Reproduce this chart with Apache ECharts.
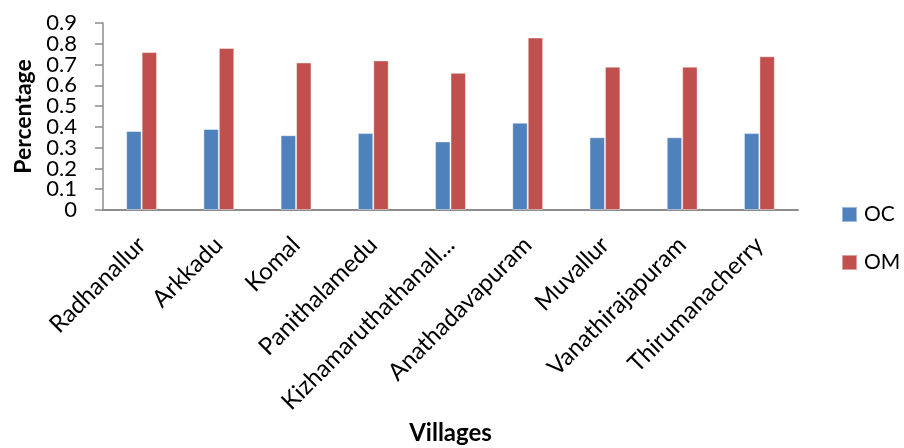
<!DOCTYPE html>
<html>
<head>
<meta charset="utf-8">
<script src="https://cdn.jsdelivr.net/npm/echarts@6/dist/echarts.min.js"></script>
<style>
  html, body { margin: 0; padding: 0; background: #fff; }
  #chart { width: 904px; height: 448px; }
</style>
</head>
<body>
<div id="chart"></div>
<script>
// Villages on the category axis
const villages = [
  'Radhanallur', 'Arkkadu', 'Komal', 'Panithalamedu', 'Kizhamaruthathanall...',
  'Anathadavapuram', 'Muvallur', 'Vanathirajapuram', 'Thirumanacherry'
];
// Organic carbon share per village
const ocValues = [0.38, 0.39, 0.36, 0.37, 0.33, 0.42, 0.35, 0.35, 0.37];
// Organic matter share per village
const omValues = [0.76, 0.78, 0.71, 0.72, 0.66, 0.83, 0.69, 0.69, 0.74];
// Value axis ticks
const yTicks = [0, 0.1, 0.2, 0.3, 0.4, 0.5, 0.6, 0.7, 0.8, 0.9];

const FONT = 'Lato, "Open Sans", sans-serif';
const axisGray = '#8c8c8c';
const yMin = yTicks[0];
const yMax = yTicks[yTicks.length - 1];
const yStep = yTicks[1] - yTicks[0];

// The tick labels are tall compared with the tick spacing, so they are split
// over two stacked value axes (even and odd steps) to keep every one visible.
const tickLabel = parity => v => {
  const k = Math.round(v / yStep);
  return k % 2 === parity ? String(Math.round(v * 10) / 10) : '';
};
const labelStyle = parity => ({
  margin: 26,
  showMinLabel: true,
  showMaxLabel: true,
  fontFamily: FONT,
  fontSize: 22,
  color: '#000',
  formatter: tickLabel(parity)
});

const chart = echarts.init(document.getElementById('chart'), null, { renderer: 'canvas' });
chart.setOption({
  animation: false,
  textStyle: { fontFamily: FONT },
  grid: {
    left: 103, right: 106, top: 23, bottom: 238,
    containLabel: false,
    outerBoundsMode: 'none'
  },
  legend: {
    orient: 'vertical',
    left: 836,
    top: 199,
    itemWidth: 15,
    itemHeight: 15,
    itemGap: 27,
    icon: 'rect',
    textStyle: { fontFamily: FONT, fontSize: 21, color: '#000', padding: [0, 0, 0, 2] },
    data: ['OC', 'OM']
  },
  xAxis: {
    type: 'category',
    data: villages,
    name: 'Villages',
    nameLocation: 'middle',
    nameGap: 211,
    nameTextStyle: { fontFamily: FONT, fontSize: 24, fontWeight: 'bold', color: '#000' },
    axisLine: { lineStyle: { color: axisGray, width: 2 } },
    axisTick: { show: false },
    axisLabel: {
      rotate: 45,
      interval: 0,
      margin: 31,
      fontFamily: FONT,
      fontSize: 24,
      color: '#000'
    }
  },
  yAxis: [
    {
      type: 'value',
      min: yMin,
      max: yMax,
      interval: yStep,
      name: 'Percentage',
      nameLocation: 'middle',
      nameGap: 68,
      nameTextStyle: { fontFamily: FONT, fontSize: 23, fontWeight: 'bold', color: '#000' },
      axisLine: { show: true, lineStyle: { color: axisGray, width: 1.5 } },
      axisTick: { show: true, length: 8, lineStyle: { color: axisGray, width: 1.5 } },
      splitLine: { show: false },
      axisLabel: labelStyle(0)
    },
    {
      type: 'value',
      min: yMin,
      max: yMax,
      interval: yStep,
      position: 'left',
      axisLine: { show: false },
      axisTick: { show: false },
      splitLine: { show: false },
      axisLabel: labelStyle(1)
    }
  ],
  series: [
    {
      name: 'OC',
      type: 'bar',
      data: ocValues,
      barWidth: '20%',
      barGap: '0%',
      itemStyle: { color: '#4F81BD', borderColor: 'rgba(255,255,255,0.45)', borderWidth: 1 }
    },
    {
      name: 'OM',
      type: 'bar',
      data: omValues,
      barWidth: '20%',
      barGap: '0%',
      itemStyle: { color: '#C0504D', borderColor: 'rgba(255,255,255,0.45)', borderWidth: 1 }
    }
  ]
});
</script>
</body>
</html>
